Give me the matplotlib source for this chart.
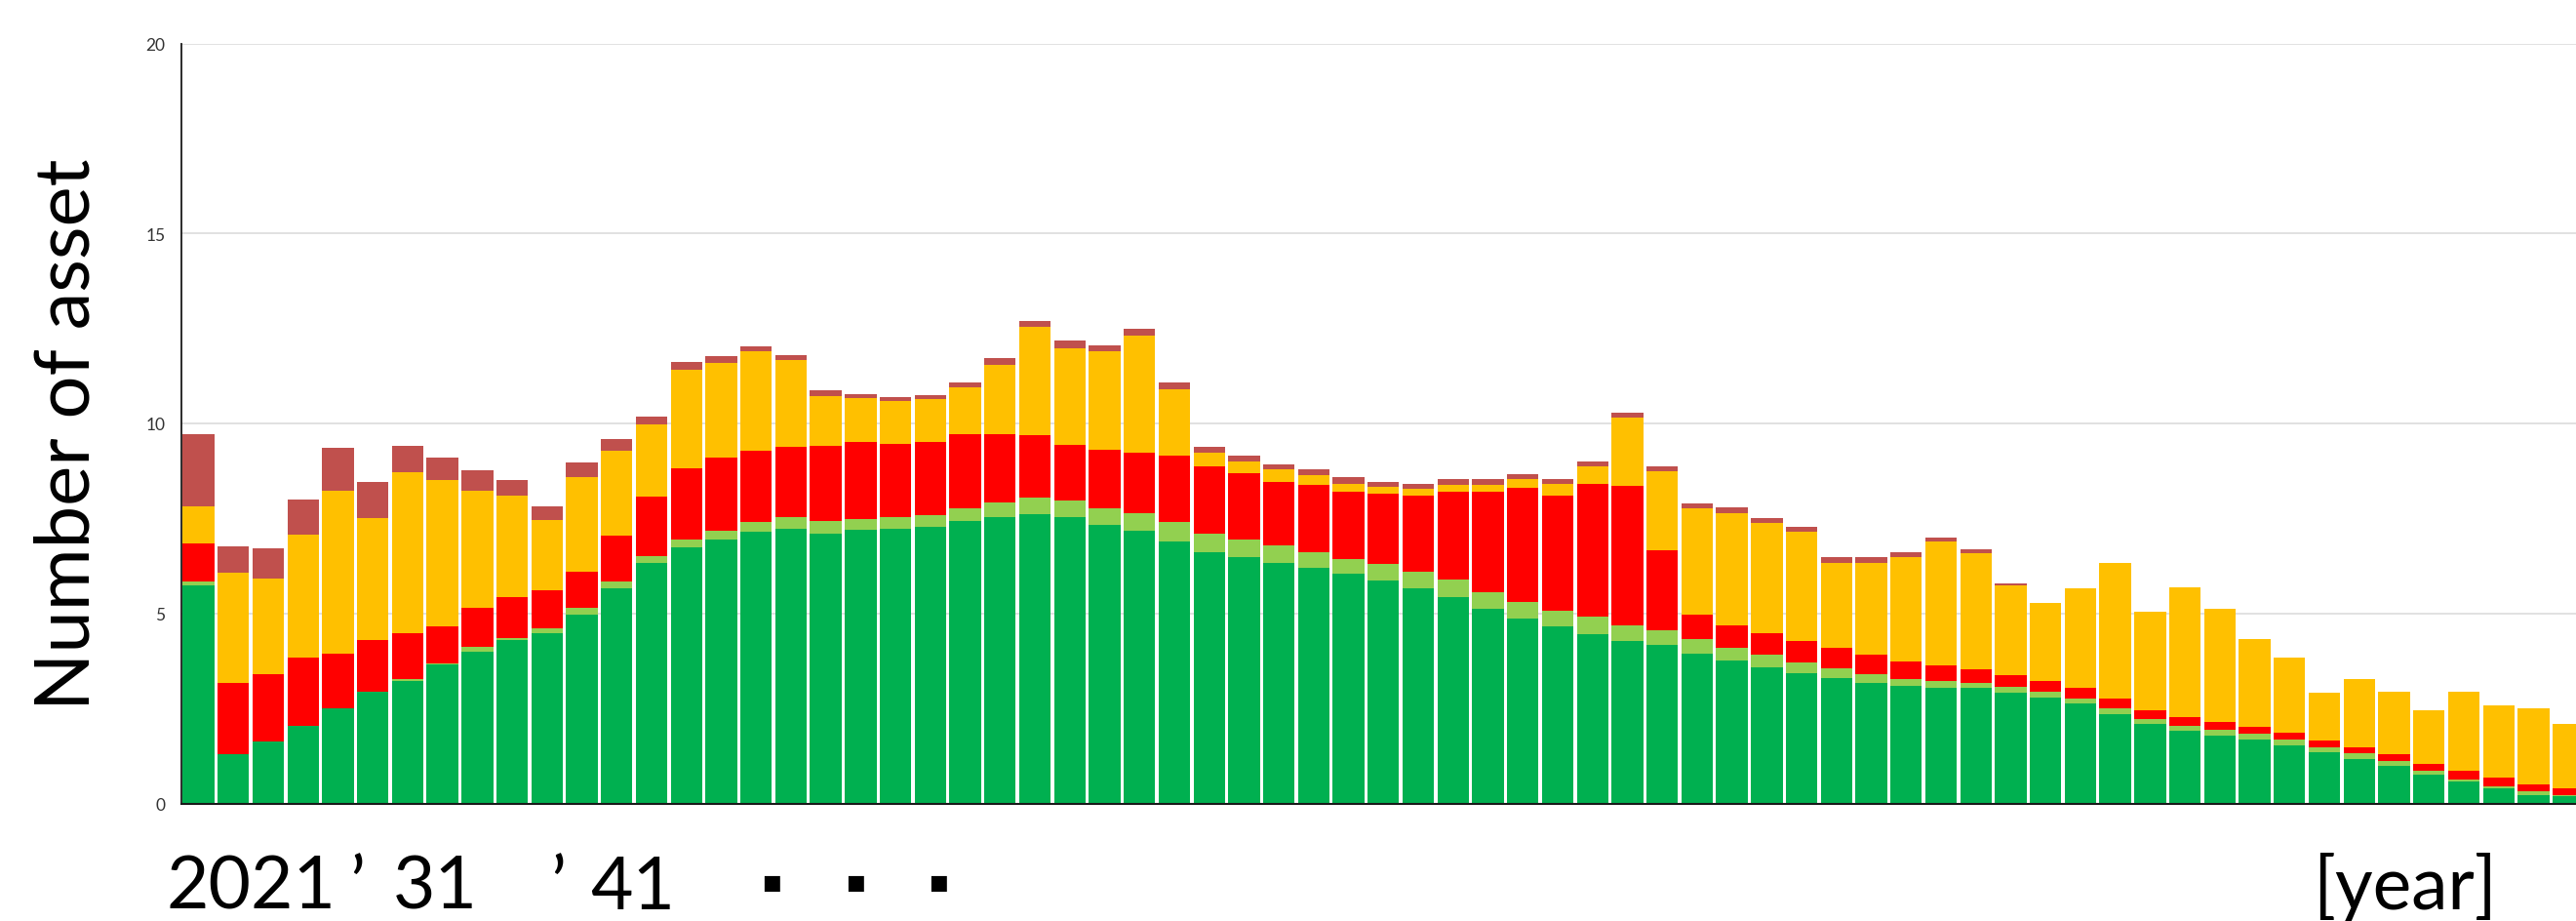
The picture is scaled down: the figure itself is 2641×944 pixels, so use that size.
import numpy as np
import matplotlib
matplotlib.use("Agg")
import matplotlib.pyplot as plt

# ---------------- data ----------------
years = list(range(2021, 2021 + 69))

green = [5.73, 1.30, 1.63, 2.05, 2.51, 2.93, 3.23, 3.65, 4.00, 4.29,
         4.49, 4.98, 5.65, 6.33, 6.73, 6.94, 7.14, 7.22, 7.11, 7.19,
         7.22, 7.27, 7.43, 7.53, 7.61, 7.53, 7.32, 7.17, 6.89, 6.60,
         6.47, 6.33, 6.20, 6.04, 5.86, 5.66, 5.42, 5.13, 4.87, 4.66,
         4.46, 4.28, 4.18, 3.94, 3.76, 3.58, 3.43, 3.30, 3.17, 3.09,
         3.05, 3.03, 2.92, 2.79, 2.62, 2.36, 2.08, 1.90, 1.79, 1.67,
         1.52, 1.34, 1.18, 1.00, 0.75, 0.57, 0.39, 0.23, 0.18]

light_green = [0.10, 0.00, 0.00, 0.00, 0.00, 0.02, 0.05, 0.04, 0.11, 0.07,
               0.13, 0.16, 0.18, 0.17, 0.21, 0.23, 0.26, 0.31, 0.32, 0.29,
               0.31, 0.31, 0.33, 0.38, 0.43, 0.43, 0.44, 0.46, 0.51, 0.51,
               0.47, 0.46, 0.40, 0.38, 0.44, 0.43, 0.46, 0.44, 0.44, 0.42,
               0.46, 0.41, 0.38, 0.39, 0.34, 0.34, 0.28, 0.26, 0.23, 0.18,
               0.18, 0.15, 0.16, 0.16, 0.15, 0.15, 0.13, 0.15, 0.16, 0.16,
               0.15, 0.13, 0.13, 0.11, 0.10, 0.07, 0.07, 0.08, 0.05]

red = [1.00, 1.88, 1.78, 1.80, 1.44, 1.34, 1.19, 0.98, 1.03, 1.06,
       0.98, 0.97, 1.21, 1.57, 1.87, 1.92, 1.87, 1.85, 1.97, 2.02,
       1.92, 1.94, 1.95, 1.82, 1.64, 1.47, 1.54, 1.59, 1.74, 1.75,
       1.74, 1.68, 1.77, 1.78, 1.85, 2.00, 2.32, 2.63, 2.99, 3.01,
       3.48, 3.66, 2.09, 0.64, 0.59, 0.56, 0.57, 0.54, 0.52, 0.47,
       0.41, 0.36, 0.30, 0.28, 0.26, 0.26, 0.25, 0.23, 0.20, 0.18,
       0.18, 0.18, 0.16, 0.18, 0.18, 0.23, 0.21, 0.20, 0.18]

yellow = [0.98, 2.88, 2.50, 3.22, 4.27, 3.21, 4.24, 3.84, 3.08, 2.68,
          1.85, 2.47, 2.24, 1.90, 2.61, 2.49, 2.62, 2.28, 1.33, 1.18,
          1.13, 1.11, 1.23, 1.82, 2.85, 2.55, 2.59, 3.08, 1.77, 0.36,
          0.31, 0.32, 0.26, 0.22, 0.17, 0.18, 0.17, 0.18, 0.23, 0.31,
          0.47, 1.80, 2.09, 2.79, 2.96, 2.89, 2.86, 2.24, 2.42, 2.75,
          3.26, 3.05, 2.36, 2.05, 2.64, 3.56, 2.59, 3.41, 2.98, 2.31,
          1.98, 1.26, 1.80, 1.64, 1.41, 2.06, 1.90, 1.99, 1.67]

dark_red = [1.91, 0.70, 0.80, 0.92, 1.14, 0.96, 0.70, 0.59, 0.55, 0.41,
            0.36, 0.39, 0.31, 0.22, 0.21, 0.18, 0.15, 0.13, 0.14, 0.10,
            0.12, 0.12, 0.15, 0.18, 0.17, 0.19, 0.17, 0.18, 0.18, 0.16,
            0.15, 0.14, 0.16, 0.16, 0.15, 0.13, 0.16, 0.15, 0.13, 0.13,
            0.12, 0.13, 0.13, 0.13, 0.13, 0.13, 0.13, 0.13, 0.13, 0.11,
            0.10, 0.10, 0.05, 0.00, 0.00, 0.00, 0.00, 0.00, 0.00, 0.00,
            0.00, 0.00, 0.00, 0.00, 0.00, 0.00, 0.00, 0.00, 0.00]

series = [green, light_green, red, yellow, dark_red]
colors = ["#00B050", "#92D050", "#FF0000", "#FFC000", "#C0504D"]

y_ticks = [0, 5, 10, 15, 20]
bottom_labels = ["2021", "\u2019", "31", "\u2019", "41"]
dots_label = "\u25A0"
year_label = "[year]"
y_label = "Number of asset"

# ---------------- figure ----------------
W, H = 2641, 945
fig = plt.figure(figsize=(W / 100, H / 100), dpi=100)

def fx(px):
    return px / W

def fy(py):
    return 1 - py / H

ax = fig.add_axes([fx(186), fy(824.5), fx(2641 - 186), (824.5 - 45.5) / H])

x = np.arange(len(years))
base = np.zeros(len(years))
for vals, c in zip(series, colors):
    v = np.array(vals)
    ax.bar(x, v, bottom=base, width=0.905, color=c, linewidth=0, zorder=2)
    base += v

ax.set_xlim(-0.49, 68.22)
ax.set_ylim(0, 20)
ax.set_yticks(y_ticks)
ax.set_yticklabels([str(t) for t in y_ticks], family="Lato", fontsize=12.5,
                   color="#333333")
ax.tick_params(axis="y", length=0, pad=12)
ax.set_xticks([])

ax.set_axisbelow(True)
ax.yaxis.grid(True, color="#D9D9D9", linewidth=1.1)
for s in ["top", "right"]:
    ax.spines[s].set_visible(False)
ax.spines["left"].set_linewidth(1.3)
ax.spines["bottom"].set_linewidth(1.5)
ax.spines["left"].set_color("#1a1a1a")
ax.spines["bottom"].set_color("#1a1a1a")
ax.spines["bottom"].set_zorder(3)

# y label
fig.text(fx(92), fy(445), y_label, rotation=90, rotation_mode="anchor",
         ha="center", va="baseline", family="Lato", fontsize=56, color="black")

# bottom year labels
base_y = fy(932)
fs = 54
fig.text(fx(171), base_y, bottom_labels[0], ha="left", va="baseline", family="Lato", fontsize=fs)
fig.text(fx(366), base_y, bottom_labels[1], ha="center", va="baseline", family="Lato", fontsize=fs)
fig.text(fx(403), base_y, bottom_labels[2], ha="left", va="baseline", family="Lato", fontsize=fs)
fig.text(fx(572), base_y, bottom_labels[3], ha="center", va="baseline", family="Lato", fontsize=fs)
fig.text(fx(605), base_y, bottom_labels[4], ha="left", va="baseline", family="Lato", fontsize=fs)
for cx in [791, 877, 962]:
    fig.text(fx(cx), fy(911), dots_label, ha="center", va="baseline",
             family="DejaVu Sans", fontsize=15)
fig.text(fx(2466), base_y, year_label, ha="center", va="baseline", family="Lato", fontsize=fs)

fig.savefig("out.png", dpi=100)
